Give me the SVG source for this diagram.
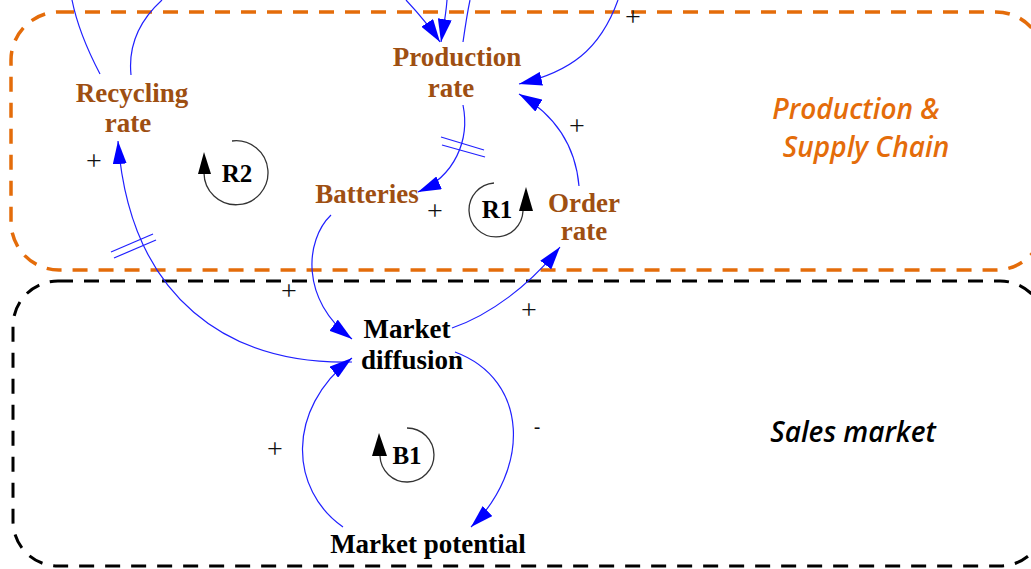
<svg xmlns="http://www.w3.org/2000/svg" width="1031" height="569" viewBox="0 0 1031 569">
<style>
.node{font-family:"Liberation Serif","Times New Roman",serif;font-weight:bold;font-size:27px;text-anchor:middle}
.brown{fill:#9E4F12}
.blk{fill:#000}
.link{fill:none;stroke:#2020ff;stroke-width:1.2}
.delay{stroke:#2020ff;stroke-width:1.2}
.pol{font-family:"Liberation Serif","Times New Roman",serif;font-size:28px;fill:#111;text-anchor:middle}
.neg{font-family:"Liberation Sans",Arial,sans-serif;font-size:20px;fill:#111;text-anchor:middle}
.loop{font-family:"Liberation Serif","Times New Roman",serif;font-weight:bold;font-size:25px;text-anchor:middle;fill:#000}
.loopArc{fill:none;stroke:#333;stroke-width:1.3}
.sector{font-family:"Open Sans","Liberation Sans",sans-serif;font-style:italic;font-weight:600;font-size:28px;text-anchor:middle}
</style>
<defs>
<marker id="ah" viewBox="0 0 23 14" refX="23" refY="7" markerWidth="23" markerHeight="14" markerUnits="userSpaceOnUse" orient="auto">
<path d="M0,0 L23,7 L0,14 z" fill="#0000ff"/>
</marker>
</defs>
<rect width="1031" height="569" fill="#fff"/>
<g id="sectors">
<rect x="11" y="12" width="1033" height="258" rx="48" fill="none" stroke="#E46C0A" stroke-width="3.5" stroke-dasharray="15 11"/>
<rect x="13" y="281" width="1032" height="285" rx="45" fill="none" stroke="#000" stroke-width="3" stroke-dasharray="15 11"/>
<text class="sector" fill="#E46C0A" x="856" y="119">Production &amp;</text>
<text class="sector" fill="#E46C0A" x="866" y="157">Supply Chain</text>
<text class="sector" fill="#000" x="853" y="442">Sales market</text>
</g>
<g id="connectors">
<path class="link" d="M352,362 C230,365 130,300 118,141" marker-end="url(#ah)"/>
<line class="delay" x1="111" y1="252" x2="153" y2="234"/>
<line class="delay" x1="114" y1="258" x2="156" y2="240"/>
<path class="link" d="M100,74 C90,55 78,30 72,0"/>
<path class="link" d="M131,75 C128,45 140,20 162,0"/>
<path class="link" d="M406,0 C420,15 432,30 440,42" marker-end="url(#ah)"/>
<path class="link" d="M447,0 C446,15 443,30 441,42" marker-end="url(#ah)"/>
<path class="link" d="M463,42 C465,28 467,14 470,0"/>
<path class="link" d="M618,0 C600,50 570,72 519,84" marker-end="url(#ah)"/>
<path class="link" d="M579,186 C575,140 550,112 519,94" marker-end="url(#ah)"/>
<path class="link" d="M463,105 C470,140 455,176 418,192" marker-end="url(#ah)"/>
<line class="delay" x1="441" y1="137" x2="484" y2="150"/>
<line class="delay" x1="442" y1="145" x2="485" y2="157"/>
<path class="link" d="M331,215 C305,240 300,300 352,339" marker-end="url(#ah)"/>
<path class="link" d="M452,328 C490,315 530,285 560,247" marker-end="url(#ah)"/>
<path class="link" d="M455,352 C530,380 530,470 471,527" marker-end="url(#ah)"/>
<path class="link" d="M343,527 C290,490 285,410 352,358" marker-end="url(#ah)"/>
</g>
<g id="polarities">
<text class="pol" x="94" y="170">+</text>
<text class="pol" x="633" y="26">+</text>
<text class="pol" x="577" y="135">+</text>
<text class="pol" x="435" y="220">+</text>
<text class="pol" x="289" y="300">+</text>
<text class="pol" x="529" y="319">+</text>
<text class="pol" x="275" y="458">+</text>
<text class="neg" x="537" y="434">-</text>
</g>
<g id="loop-R2">
<path class="loopArc" d="M232,141 A32 32 0 1 1 204,173"/>
<path d="M198,174 L204,152 L211,174 z" fill="#000"/>
<text class="loop" x="237" y="182">R2</text>
</g>
<g id="loop-R1">
<path class="loopArc" d="M494,183 A27 27 0 1 0 523,211"/>
<path d="M519,211 L526,187 L533,211 z" fill="#000"/>
<text class="loop" x="497" y="218">R1</text>
</g>
<g id="loop-B1">
<path class="loopArc" d="M407,428 A27 27 0 1 1 380,456"/>
<path d="M372,456 L379,433 L387,456 z" fill="#000"/>
<text class="loop" x="407" y="464">B1</text>
</g>
<g id="node-recycling-rate">
<text class="node brown"><tspan x="132" y="102">Recycling</tspan><tspan x="128" y="132">rate</tspan></text>
</g>
<g id="node-production-rate">
<text class="node brown"><tspan x="457" y="66">Production</tspan><tspan x="451" y="97">rate</tspan></text>
</g>
<g id="node-batteries">
<text class="node brown" x="367" y="203">Batteries</text>
</g>
<g id="node-order-rate">
<text class="node brown"><tspan x="584" y="212">Order</tspan><tspan x="584" y="240">rate</tspan></text>
</g>
<g id="node-market-diffusion">
<text class="node blk"><tspan x="407" y="338">Market</tspan><tspan x="412" y="369">diffusion</tspan></text>
</g>
<g id="node-market-potential">
<text class="node blk" x="428" y="553">Market potential</text>
</g>
</svg>
